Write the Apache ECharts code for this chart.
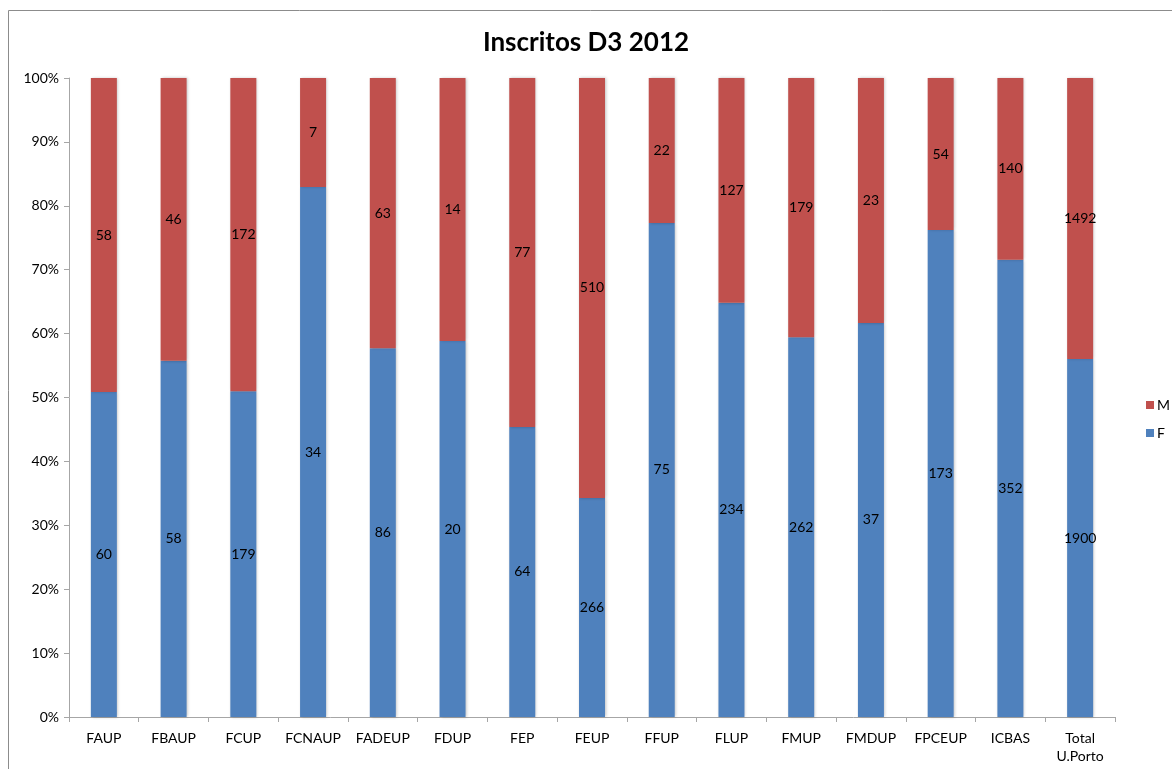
<!DOCTYPE html>
<html><head><meta charset="utf-8">
<script src="https://cdn.jsdelivr.net/npm/echarts@6/dist/echarts.min.js"></script>
<style>html,body{margin:0;padding:0;background:#fff}#c{width:1172px;height:769px}</style>
</head><body><div id="c"></div>
<script>
const categories = ['FAUP','FBAUP','FCUP','FCNAUP','FADEUP','FDUP','FEP','FEUP','FFUP','FLUP','FMUP','FMDUP','FPCEUP','ICBAS','Total\nU.Porto'];
const countF = [60,58,179,34,86,20,64,266,75,234,262,37,173,352,1900];
const countM = [58,46,172,7,63,14,77,510,22,127,179,23,54,140,1492];
const yTicks = [0,10,20,30,40,50,60,70,80,90,100];

const pctF = countF.map((f,i)=>f/(f+countM[i])*100);
const pctM = countM.map((m,i)=>m/(countF[i]+m)*100);
const font = 'Lato, "Open Sans", sans-serif';
const chart = echarts.init(document.getElementById('c'));
const barStyle = c => ({color:c, shadowColor:'rgba(0,0,0,0.25)', shadowBlur:3, shadowOffsetX:1, shadowOffsetY:0});
chart.setOption({
  animation:false,
  graphic:[{type:'rect',shape:{x:8.5,y:10.5,width:1200,height:800},style:{fill:'none',stroke:'#8c8c8c',lineWidth:1},z:-1}],
  title:{text:'Inscritos D3 2012',left:'center',top:25,textStyle:{fontFamily:font,fontSize:26,fontWeight:'bold',color:'#000'}},
  legend:{orient:'vertical',left:1141,top:393,itemWidth:8,itemHeight:8,itemGap:14,icon:'rect',
    data:['M','F'],itemStyle:{shadowBlur:0,shadowOffsetX:0,shadowColor:'transparent'},
    textStyle:{fontFamily:font,fontSize:14,color:'#000',padding:[0,0,0,-2]}},
  grid:{left:69,right:57,top:78,bottom:52,containLabel:false},
  xAxis:{type:'category',data:categories,
    axisLine:{lineStyle:{color:'#a6a6a6'}},
    axisTick:{show:true,alignWithLabel:false,length:5,lineStyle:{color:'#a6a6a6'}},
    axisLabel:{fontFamily:font,fontSize:14,color:'#000',margin:12,interval:0,lineHeight:18}},
  yAxis:{type:'value',min:0,max:100,interval:10,
    axisLine:{show:true,lineStyle:{color:'#a6a6a6'}},
    axisTick:{show:true,length:5,lineStyle:{color:'#a6a6a6'}},
    splitLine:{show:false},
    axisLabel:{fontFamily:font,fontSize:14,color:'#000',margin:10,formatter:v=>v+'%'}},
  series:[
    {name:'F',type:'bar',stack:'s',data:pctF,barWidth:26,itemStyle:barStyle('#4f81bd'),
      label:{show:true,position:'inside',fontFamily:font,fontSize:14,color:'#000',formatter:p=>countF[p.dataIndex]}},
    {name:'M',type:'bar',stack:'s',data:pctM,barWidth:26,itemStyle:barStyle('#c0504d'),
      label:{show:true,position:'inside',fontFamily:font,fontSize:14,color:'#000',formatter:p=>countM[p.dataIndex]}}
  ]
});
</script></body></html>
